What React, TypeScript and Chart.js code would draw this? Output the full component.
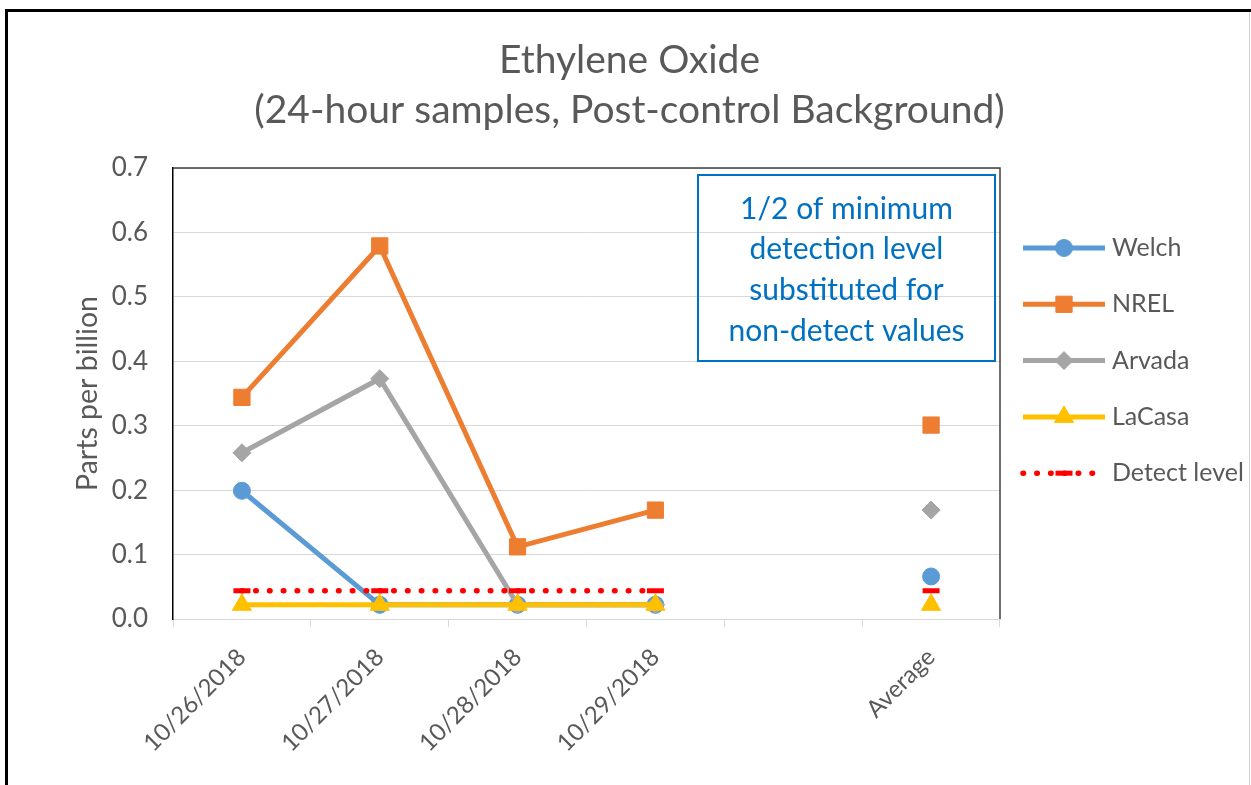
import React, { useEffect, useRef } from 'react';
import { Chart, registerables } from 'chart.js';
import { drawPoint } from 'chart.js/helpers';

Chart.register(...registerables);

const FONT = 'Lato, "Open Sans", sans-serif';
const TEXT_GREY = '#595959';

const titleLines = ['Ethylene Oxide', '(24-hour samples, Post-control Background)'];
const yAxisTitle = 'Parts per billion';
const categories = ['10/26/2018', '10/27/2018', '10/28/2018', '10/29/2018', '', 'Average'];
const welch = [0.199, 0.022, 0.022, 0.022, null, 0.066];
const nrel = [0.344, 0.579, 0.112, 0.169, null, 0.301];
const arvada = [0.258, 0.373, 0.022, 0.022, null, 0.169];
const lacasa = [0.022, 0.022, 0.022, 0.022, null, 0.022];
const detectLevel = [0.044, 0.044, 0.044, 0.044, null, 0.044];
const noteLines = ['1/2 of minimum', 'detection level', 'substituted for', 'non-detect values'];

const decorPlugin = {
  id: 'decor',
  beforeDraw(chart: any) {
    const { ctx, width, height } = chart;
    ctx.save();
    ctx.fillStyle = '#ffffff';
    ctx.fillRect(0, 0, width, height);
    // outer frame
    ctx.fillStyle = '#000000';
    ctx.fillRect(5, 9, width - 5, 3);
    ctx.fillRect(5, 9, 3, height - 9);
    ctx.fillStyle = '#d0d0d0';
    ctx.fillRect(width - 2, 12, 1, height - 12);
    ctx.restore();
  },
  afterDraw(chart: any) {
    const { ctx, chartArea } = chart;
    const { left, right, top, bottom } = chartArea;
    ctx.save();
    // plot area top / right border
    ctx.strokeStyle = '#404040';
    ctx.lineWidth = 1.5;
    ctx.beginPath();
    ctx.moveTo(left, top);
    ctx.lineTo(right, top);
    ctx.lineTo(right, bottom);
    ctx.stroke();

    // annotation box
    const bx = right - 302, by = top + 7, bw = 297, bh = 186;
    ctx.strokeStyle = '#0070C0';
    ctx.lineWidth = 2;
    ctx.strokeRect(bx, by, bw, bh);
    ctx.fillStyle = '#0070C0';
    ctx.font = `30px ${FONT}`;
    ctx.textAlign = 'center';
    ctx.textBaseline = 'middle';
    noteLines.forEach((t, i) => ctx.fillText(t, bx + bw / 2, by + 34 + i * 40.7));

    // legend
    const x0 = right + 23, x1 = right + 105;
    chart.data.datasets.forEach((ds: any, i: number) => {
      const y = top + 80 + i * 56.3;
      ctx.save();
      ctx.strokeStyle = ds.borderColor;
      ctx.lineWidth = ds.borderWidth;
      ctx.lineCap = ds.borderCapStyle || 'butt';
      ctx.setLineDash(ds.borderDash || []);
      ctx.beginPath();
      ctx.moveTo(x0, y);
      ctx.lineTo(x1, y);
      ctx.stroke();
      ctx.restore();
      ctx.save();
      ctx.setLineDash([]);
      ctx.fillStyle = ds.pointBackgroundColor;
      ctx.strokeStyle = ds.pointBorderColor;
      ctx.lineWidth = ds.pointBorderWidth;
      drawPoint(ctx, { pointStyle: ds.pointStyle, radius: ds.pointRadius, rotation: 0, borderWidth: ds.pointBorderWidth }, (x0 + x1) / 2, y);
      ctx.restore();
      ctx.fillStyle = TEXT_GREY;
      ctx.font = `25px ${FONT}`;
      ctx.textAlign = 'left';
      ctx.textBaseline = 'middle';
      ctx.fillText(ds.label, x1 + 7, y);
    });
    ctx.restore();
  },
};

function series(label: string, data: (number | null)[], color: string, pointStyle: string, radius: number, order: number) {
  return {
    label,
    data,
    borderColor: color,
    backgroundColor: color,
    borderWidth: 5,
    pointStyle,
    pointRadius: radius,
    pointHoverRadius: radius,
    pointBackgroundColor: color,
    pointBorderColor: color,
    pointBorderWidth: 1,
    tension: 0,
    spanGaps: false,
    fill: false,
    order,
    yAxisID: 'y',
  };
}

export default function App() {
  const ref = useRef<HTMLCanvasElement>(null);
  useEffect(() => {
    const canvas = ref.current!;
    const detect: any = series('Detect level', detectLevel, '#FF0000', 'line', 8.5, 1);
    detect.borderDash = [0.5, 13.3];
    detect.borderCapStyle = 'round';
    detect.borderWidth = 5.5;
    detect.pointBorderWidth = 5;
    const chart = new Chart(canvas, {
      type: 'line',
      data: {
        labels: categories,
        datasets: [
          series('Welch', welch, '#5B9BD5', 'circle', 8.5, 5),
          series('NREL', nrel, '#ED7D31', 'rect', 11.5, 4),
          series('Arvada', arvada, '#A5A5A5', 'rectRot', 9, 3),
          series('LaCasa', lacasa, '#FFC000', 'triangle', 11, 2),
          detect,
        ] as any,
      },
      options: {
        responsive: false,
        animation: false,
        devicePixelRatio: 1,
        layout: { padding: { left: 8, right: 0, top: 0, bottom: 0 } },
        plugins: {
          legend: { display: false },
          tooltip: { enabled: false },
          title: {
            display: true,
            text: titleLines,
            color: TEXT_GREY,
            font: { family: FONT, size: 39, weight: 'normal', lineHeight: 50 / 39 },
            padding: { top: 35, bottom: 33 },
          },
        },
        scales: {
          x: {
            offset: true,
            grid: { offset: true, drawOnChartArea: false, tickLength: 8, color: '#d9d9d9' },
            border: { color: '#d9d9d9', width: 1 },
            ticks: { minRotation: 45, maxRotation: 45, autoSkip: false, padding: 16, color: TEXT_GREY, font: { family: FONT, size: 24 } },
            afterFit(s: any) { s.height = 166; },
          },
          y: {
            min: 0,
            max: 0.7,
            ticks: { stepSize: 0.1, padding: 25, color: TEXT_GREY, font: { family: FONT, size: 26 }, callback: (v: any) => Number(v).toFixed(1) },
            grid: { drawTicks: false, color: '#d9d9d9' },
            border: { color: '#000000', width: 1.5 },
            title: { display: true, text: yAxisTitle, color: TEXT_GREY, font: { family: FONT, size: 28.5 }, padding: { top: 63, bottom: 0 } },
            afterFit(s: any) { s.width = 165; },
          },
          legendSpace: {
            type: 'linear',
            position: 'right',
            display: true,
            grid: { display: false, drawTicks: false },
            border: { display: false },
            ticks: { display: false },
            afterFit(s: any) { s.width = 251; },
          },
        },
      } as any,
      plugins: [decorPlugin],
    });
    return () => chart.destroy();
  }, []);
  return (
    <div style={{ position: 'fixed', left: 0, top: 0, width: 1251, height: 785, background: '#fff' }}>
      <canvas ref={ref} width={1251} height={785} style={{ display: 'block' }} />
    </div>
  );
}
